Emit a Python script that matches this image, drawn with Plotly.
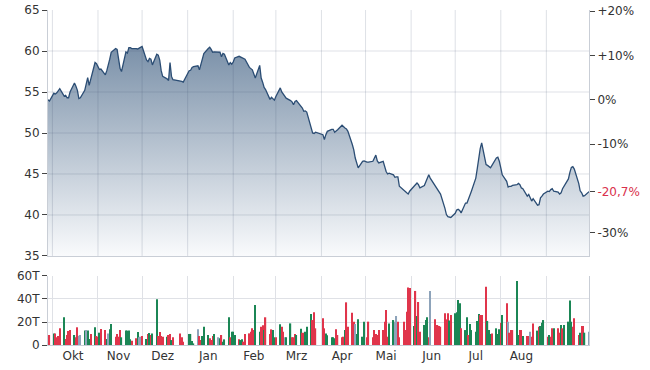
import pandas as pd
import plotly.graph_objects as go

# ---------------- data ----------------
holidays = ["2023-12-25", "2023-12-26", "2024-01-01", "2024-03-29", "2024-04-01", "2024-05-01"]
dates = [d for d in pd.bdate_range("2023-09-28", "2024-09-30") if d.strftime("%Y-%m-%d") not in holidays]

price_sep23 = [54.05, 53.9]
price_oct23 = [54.85, 54.75, 54.9, 55.2, 55.4, 54.5, 54.6, 54.3, 54.3, 55.0, 56.1, 55.7, 55.2, 54.2, 54.3,
               55.2, 55.9, 56.75, 55.8, 56.5, 58.6, 58.45]
price_nov23 = [58.1, 57.75, 57.8, 57.1, 57.6, 58.2, 59.0, 59.85, 60.3, 60.2, 58.9, 57.9, 57.5, 59.9, 59.75,
               60.4, 60.4, 60.3, 60.3, 60.25, 60.35, 60.5]
price_dec23 = [60.55, 58.9, 58.7, 59.1, 59.0, 58.3, 59.6, 59.5, 58.9, 57.6, 56.9, 56.6, 56.4, 58.6, 56.9,
               56.5, 56.4, 56.3, 56.2]
price_jan24 = [57.6, 57.65, 58.0, 58.1, 58.2, 57.7, 58.4, 59.0, 59.7, 60.3, 60.45, 60.2, 59.85, 59.9, 59.8,
               59.85, 59.3, 59.7, 59.6, 58.3, 58.6, 58.4]
price_feb24 = [58.65, 59.15, 59.35, 59.25, 59.15, 59.05, 59.0, 58.0, 57.85, 57.7, 57.2, 56.7, 58.25, 56.7,
               56.2, 55.55, 55.3, 54.1, 54.35, 54.2, 54.0]
price_mar24 = [54.45, 55.5, 55.0, 54.7, 54.45, 54.25, 53.95, 53.8, 53.45, 53.85, 53.95, 53.35, 53.05, 52.65,
               52.7, 52.55, 50.4, 50.0, 49.95, 50.1]
price_apr24 = [49.8, 49.2, 49.8, 50.2, 50.45, 50.45, 50.1, 50.2, 50.4, 50.95, 50.75, 50.6, 50.5, 50.2, 48.6,
               47.95, 46.95, 46.15, 45.75, 46.55, 46.6]
price_may24 = [46.45, 46.45, 46.55, 47.0, 47.3, 46.6, 46.35, 46.55, 45.75, 45.3, 45.0, 45.1, 44.9, 44.6,
               44.65, 44.65, 43.5, 42.95, 42.8, 42.7, 42.55, 42.9]
price_jun24 = [43.5, 43.7, 43.9, 43.7, 43.3, 43.6, 44.1, 44.6, 44.9, 44.5, 43.7, 43.5, 43.2, 42.95, 42.55,
               40.8, 40.05, 39.8, 39.7, 39.7]
price_jul24 = [40.2, 40.6, 40.7, 40.55, 40.25, 41.45, 41.45, 41.85, 42.4, 42.9, 44.5, 45.65, 47.15, 48.1,
               48.8, 46.15, 46.05, 45.95, 45.75, 46.05, 46.95, 47.05, 46.55]
price_aug24 = [45.75, 44.9, 44.1, 43.4, 43.5, 43.5, 43.6, 43.7, 43.85, 43.7, 43.3, 43.2, 42.3, 42.5, 42.1,
               41.7, 42.0, 41.2, 41.25, 42.1, 42.3, 42.55]
price_sep24 = [42.9, 42.85, 43.1, 43.2, 42.9, 42.8, 42.55, 42.7, 43.2, 43.5, 44.4, 45.2, 45.8, 45.9, 45.6,
               43.85, 42.95, 42.7, 42.3, 42.35, 42.85]

# volume in thousands (T = Tausend)
vol_sep23 = [5.2, 8.7]
vol_oct23 = [10.1, 10.1, 6.7, 7.8, 14.5, 24.1, 5.2, 8.7, 12.2, 13.0, 8.7, 6.7, 15.4, 8.1, 8.7, 12.5, 13.0,
             12.5, 5.2, 9.6, 15.4, 7.8]
vol_nov23 = [7.2, 10.7, 13.9, 13.0, 5.2, 10.1, 13.6, 18.3, 7.2, 9.6, 7.2, 13.0, 6.7, 12.5, 12.5, 12.5, 4.9,
             3.8, 5.8, 11.3, 6.7, 7.2]
vol_dec23 = [7.8, 5.2, 9.6, 10.4, 8.7, 10.1, 39.7, 7.8, 11.3, 7.8, 7.2, 7.2, 8.7, 9.6, 4.3, 6.7, 10.1, 6.7, 2.9]
vol_jan24 = [9.6, 9.6, 3.5, 1.4, 13.6, 7.8, 4.3, 7.8, 15.9, 8.7, 5.8, 4.3, 7.8, 9.6, 6.7, 5.8, 8.7, 2.9, 4.9,
             24.1, 6.7, 11.6]
vol_feb24 = [11.6, 8.7, 4.9, 4.3, 4.9, 2.9, 9.6, 10.1, 11.6, 14.5, 13.0, 34.8, 11.6, 15.9, 17.1, 13.0, 24.1,
             9.6, 13.6, 13.0, 6.7]
vol_mar24 = [6.7, 18.0, 15.9, 11.6, 6.7, 6.7, 18.8, 6.7, 6.7, 9.6, 8.7, 14.2, 10.7, 10.7, 11.6, 15.9, 27.0,
             21.7, 28.4, 14.5]
vol_apr24 = [23.2, 14.5, 10.1, 8.4, 6.7, 6.7, 5.8, 13.6, 8.7, 6.7, 7.2, 13.0, 37.1, 15.9, 28.1, 20.3, 18.3,
             9.6, 22.3, 7.2, 20.3]
vol_may24 = [6.7, 20.3, 6.7, 13.0, 9.6, 8.7, 13.0, 13.0, 20.3, 30.4, 7.2, 18.8, 21.7, 20.3, 25.2, 20.3, 6.7,
             20.3, 13.0, 29.0, 50.1, 49.6]
vol_jun24 = [16.5, 47.0, 25.2, 37.4, 11.6, 17.4, 21.7, 24.1, 6.7, 47.0, 22.3, 13.0, 17.4, 16.5, 15.9, 27.5,
             22.3, 27.5, 21.2, 26.1]
vol_jul24 = [27.5, 28.4, 39.1, 36.2, 14.5, 13.0, 24.1, 8.7, 18.3, 13.0, 11.6, 20.9, 27.0, 26.1, 26.1, 50.7,
             20.9, 13.0, 9.6, 10.1, 14.5, 9.6, 13.6]
vol_aug24 = [19.4, 26.1, 36.2, 20.3, 10.7, 13.0, 13.0, 55.7, 8.7, 13.0, 13.0, 7.8, 7.8, 7.8, 11.6, 7.2, 18.8,
             12.5, 15.9, 16.5, 19.4, 21.7]
vol_sep24 = [7.2, 8.7, 7.2, 14.5, 14.5, 14.5, 10.7, 17.4, 14.5, 17.4, 20.3, 38.6, 20.3, 15.9, 23.2, 8.7, 10.7,
             16.5, 16.5, 10.7, 11.6]

# bar direction as shown in the picture: g = up, r = down, n = unchanged
dir_sep23 = list("gr")
dir_oct23 = list("grrrrgrrrrgrrnngnggrgr")
dir_nov23 = list("rgrrgnggrrrrgggggrrgnn")
dir_dec23 = list("rgrgrggrrrrgrrgrrrr")
dir_jan24 = list("ggggnrrgggrrrgngrggg" + "rg")
dir_feb24 = list("ggrggrrrrrrggrrgrrrgg")
dir_mar24 = list("rgrrnggrrrggrrgggrrr")
dir_apr24 = list("rrgggggrrrrgrrrrngggg")
dir_may24 = list("rrrrrrrrrrrggnnrrrrrrr")
dir_jun24 = list("grgrrgggrnrrrrrrrrgr")
dir_jul24 = list("ggggrggrgggggrrrgggrggg")
dir_aug24 = list("rgrnrrrggrrgrrnrrgrggg")
dir_sep24 = list("rgrrgrrgrggggrrrgrrgn")

month_names = ["Okt", "Nov", "Dez", "Jan", "Feb", "Mrz", "Apr", "Mai", "Jun", "Jul", "Aug"]

# ---------------- assemble ----------------
price = (price_sep23 + price_oct23 + price_nov23 + price_dec23 + price_jan24 + price_feb24 + price_mar24 +
         price_apr24 + price_may24 + price_jun24 + price_jul24 + price_aug24 + price_sep24)
volume = (vol_sep23 + vol_oct23 + vol_nov23 + vol_dec23 + vol_jan24 + vol_feb24 + vol_mar24 + vol_apr24 +
          vol_may24 + vol_jun24 + vol_jul24 + vol_aug24 + vol_sep24)
direction = (dir_sep23 + dir_oct23 + dir_nov23 + dir_dec23 + dir_jan24 + dir_feb24 + dir_mar24 + dir_apr24 +
             dir_may24 + dir_jun24 + dir_jul24 + dir_aug24 + dir_sep24)
n = len(dates)
price = price[:n]
volume = (volume + [0] * n)[:n]
direction = (direction + ["n"] * n)[:n]

base = price[0]
pct = [(p / base - 1) * 100 for p in price]
pct_last = pct[-1]

COLORS = {"g": "#1b8655", "r": "#e0354b", "n": "#8da3ba"}
bar_colors = [COLORS[d] for d in direction]

GRID = "#dfe1e6"
GRID_OVER = "rgba(60,75,105,0.17)"   # grid drawn over the area fill, as in the reference
AXIS = "#c9ced6"
TXT = "#333333"
RED = "#d9304c"
FONT = "DejaVu Sans"

ymin, ymax = 35, 65
price_grid = list(range(40, 61, 5))
month_starts = list(pd.date_range("2023-10-01", "2024-09-01", freq="MS"))
month_mids = [d + pd.Timedelta(days=14) for d in month_starts[:len(month_names)]]

fig = go.Figure()
fig.add_trace(go.Scatter(
    x=dates, y=price, xaxis="x2", yaxis="y", mode="lines",
    line=dict(color="#2b4d74", width=1.3),
    fill="tozeroy",
    fillgradient=dict(type="vertical", start=ymin, stop=max(price),
                      colorscale=[[0, "#f9fafc"], [1, "#7b91a9"]]),
    hoverinfo="skip", showlegend=False,
))
fig.add_trace(go.Scatter(
    x=dates, y=pct, xaxis="x2", yaxis="y3", mode="lines",
    line=dict(color="rgba(0,0,0,0)", width=0), hoverinfo="skip", showlegend=False,
))
fig.add_trace(go.Bar(
    x=dates, y=volume, xaxis="x", yaxis="y2",
    marker=dict(color=bar_colors, line=dict(width=0)),
    hoverinfo="skip", showlegend=False,
))

# price-panel grid lines, drawn above the fill
shapes = []
for d in month_starts:
    shapes.append(dict(type="line", xref="x2", yref="y domain", x0=d, x1=d, y0=0, y1=1,
                       line=dict(color=GRID_OVER, width=1), layer="above"))
for v in price_grid:
    shapes.append(dict(type="line", xref="x2 domain", yref="y", x0=0, x1=1, y0=v, y1=v,
                       line=dict(color=GRID_OVER, width=1), layer="above"))

pct_ticks = [20, 10, 0, -10, pct_last, -30]
pct_text = ["+20%", "+10%", "0%", "-10%",
            '<span style="fill:%s">%s%%</span>' % (RED, ("%.1f" % pct_last).replace(".", ",")), "-30%"]

tickfont = dict(family=FONT, size=12, color=TXT)
fig.update_layout(
    width=650, height=370,
    margin=dict(l=48, r=61, t=10, b=25, autoexpand=False),
    paper_bgcolor="white", plot_bgcolor="white",
    bargap=0.15,
    font=dict(family=FONT, size=12, color=TXT),
    shapes=shapes,
    xaxis=dict(
        domain=[0, 1], anchor="y2", type="date", range=[dates[0], dates[-1]], automargin=False,
        tickmode="array", tickvals=month_mids, ticktext=month_names, ticks="",
        showgrid=False, showline=True, linecolor=AXIS, linewidth=1,
        minor=dict(tickmode="array", tickvals=month_starts, showgrid=True, gridcolor=GRID, gridwidth=1, ticks=""),
        tickfont=tickfont, zeroline=False,
    ),
    xaxis2=dict(
        domain=[0, 1], anchor="y", type="date", matches="x", automargin=False,
        tickmode="array", tickvals=month_mids, showticklabels=False, ticks="",
        showgrid=False, showline=True, linecolor=AXIS, linewidth=1, zeroline=False,
    ),
    yaxis=dict(
        domain=[0.2657, 1], anchor="x2", range=[ymin, ymax], automargin=False,
        tickmode="array", tickvals=list(range(35, 66, 5)), ticks="outside", ticklen=5,
        tickcolor="#444444", showgrid=False,
        showline=True, linecolor=AXIS, mirror=True, zeroline=False, tickfont=tickfont,
    ),
    yaxis3=dict(
        overlaying="y", side="right", anchor="x2", automargin=False,
        range=[(ymin / base - 1) * 100, (ymax / base - 1) * 100],
        tickmode="array", tickvals=pct_ticks, ticktext=pct_text, ticks="outside", ticklen=5,
        tickcolor="#444444", showgrid=False, showline=False, zeroline=False, tickfont=tickfont,
    ),
    yaxis2=dict(
        domain=[0, 0.206], anchor="x", range=[0, 60], automargin=False,
        tickmode="array", tickvals=[0, 20, 40, 60], ticktext=["0", "20T", "40T", "60T"],
        ticks="outside", ticklen=5, tickcolor="#444444",
        showgrid=True, gridcolor=GRID, gridwidth=1,
        showline=True, linecolor=AXIS, mirror=True, zeroline=False, tickfont=tickfont,
    ),
)

fig.write_html("out.html")
